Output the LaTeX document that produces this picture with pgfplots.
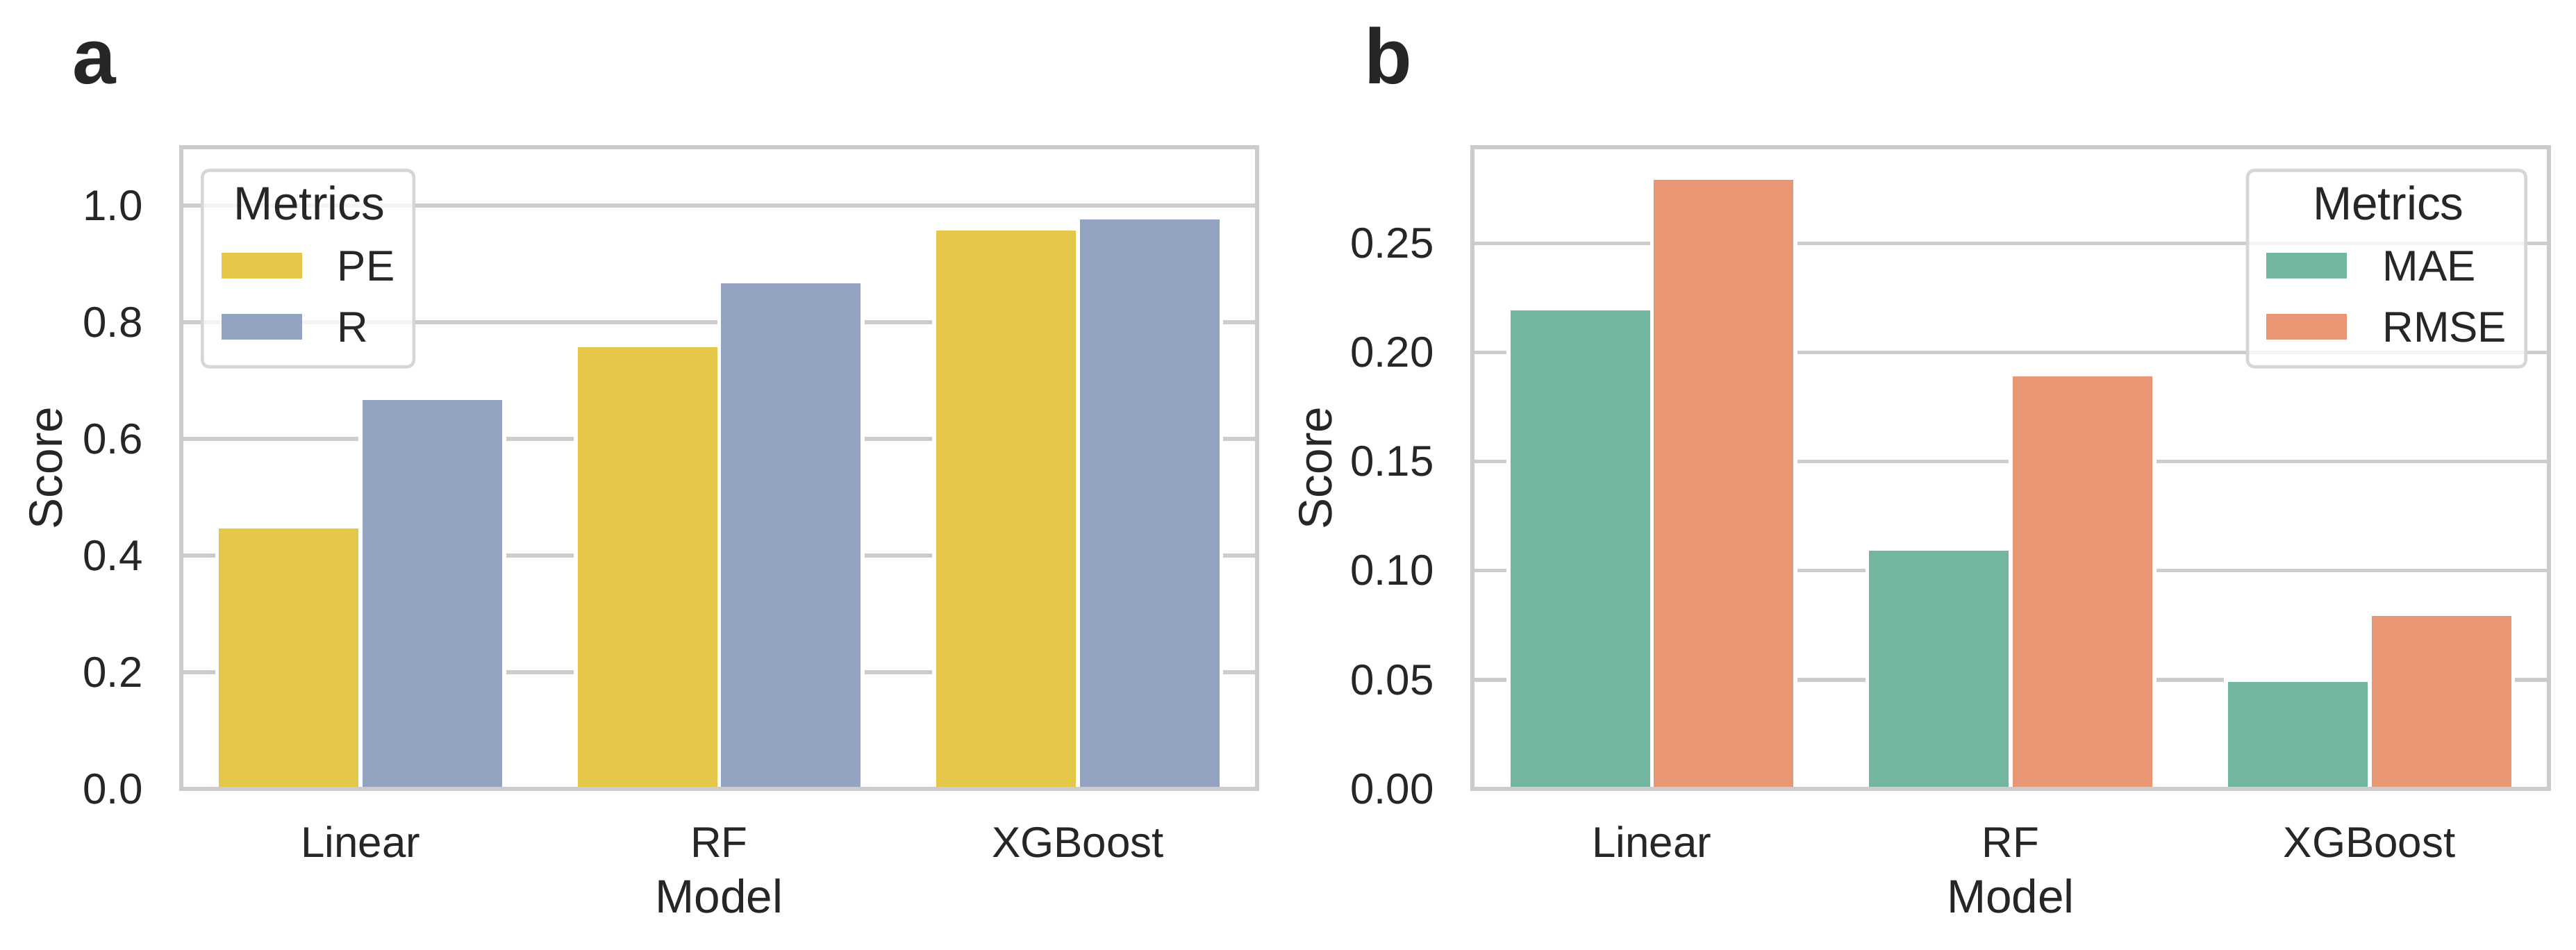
\documentclass[border=0pt]{standalone}
\usepackage{fontspec}
\setmainfont{Liberation Sans}
\usepackage{pgfplots}
\pgfplotsset{compat=1.18}
\definecolor{textc}{HTML}{262626}
\definecolor{gridc}{HTML}{CCCCCC}
\definecolor{legc}{HTML}{D6D6D6}
\definecolor{peC}{HTML}{E5C849}
\definecolor{rC}{HTML}{95A3C3}
\definecolor{maeC}{HTML}{72B6A1}
\definecolor{rmseC}{HTML}{E99675}
\newcommand{\tickfont}{\fontsize{14.85pt}{17pt}\selectfont}
\newcommand{\labfont}{\fontsize{16.2pt}{19pt}\selectfont}
\pgfplotsset{
 /pgfplots/ybar legend/.style={/pgfplots/legend image code/.code={
   \path[draw=none, fill=none] (0pt,-6.36pt) rectangle (40.08pt,6.36pt);
   \fill[##1, draw=none, fill opacity=1, sharp corners] (0pt,-3.48pt) rectangle (27.84pt,5.4pt);}},
 panel/.style={
  scale only axis, anchor=south west, height=221.76pt,
  ybar,
  ymin=0, xmin=-0.5, xmax=2.5, xtick={0,1,2}, xticklabels={Linear,RF,XGBoost},
  clip=false,
  major tick length=0pt, tick style={draw=none},
  ymajorgrids, major grid style={draw=gridc, line width=1.3pt},
  axis line style={draw=gridc, line width=1.65pt},
  tick label style={text=textc, font=\tickfont, inner sep=0pt},
  xticklabel style={anchor=base, yshift=-23.76pt},
  yticklabel style={anchor=east, xshift=-13.1pt},
  label style={text=textc, font=\labfont, inner sep=0pt},
  xlabel style={at={([yshift=-42.96pt]axis description cs:0.5,0)}, anchor=base},
  xlabel={Model}, ylabel={Score},
  legend cell align=left,
  legend style={draw=legc, line width=1.1pt, fill=white, fill opacity=0.8, draw opacity=1, text opacity=1,
    rounded corners=2.4pt, inner xsep=6.6pt, inner ysep=6.48pt, row sep=8.4pt, column sep=0pt,
    font=\tickfont, text=textc,
    nodes={inner sep=0pt, text height=10.56pt, text depth=2.16pt}},
 },
}
\begin{document}
\begin{tikzpicture}
\useasboundingbox (0,0) rectangle (890.16pt,328.32pt);
% Panel a
\begin{axis}[panel, at={(62.64pt,55.68pt)}, width=371.76pt,
  ymax=1.1, ytick={0,0.2,0.4,0.6,0.8,1.0}, yticklabels={0.0,0.2,0.4,0.6,0.8,1.0},
  ylabel style={at={([xshift=-41.04pt]axis description cs:0,0.5)}, anchor=base},
  legend style={at={([xshift=6.72pt,yshift=-7.44pt]axis description cs:0,1)}, anchor=north west}]
\addlegendimage{empty legend}
\addlegendentry{\rlap{\hspace*{-36.24pt}\labfont Metrics}}
\addplot[fill=peC, draw=white, line width=1.37pt, bar width=0.4, bar shift=-0.2]
  coordinates {(0,0.45) (1,0.76) (2,0.96)};
\addlegendentry{PE}
\addplot[fill=rC, draw=white, line width=1.37pt, bar width=0.4, bar shift=0.2]
  coordinates {(0,0.67) (1,0.87) (2,0.98)};
\addlegendentry{R}
\draw[gridc, line width=1.65pt] (rel axis cs:0,0) rectangle (rel axis cs:1,1);
\end{axis}
% Panel b
\begin{axis}[panel, at={(508.8pt,55.68pt)}, width=372pt,
  ymax=0.294, ytick={0,0.05,0.10,0.15,0.20,0.25}, yticklabels={0.00,0.05,0.10,0.15,0.20,0.25},
  ylabel style={at={([xshift=-48.72pt]axis description cs:0,0.5)}, anchor=base},
  legend style={at={([xshift=-7.44pt,yshift=-7.44pt]axis description cs:1,1)}, anchor=north east}]
\addlegendimage{empty legend}
\addlegendentry{\rlap{\hspace*{-24.6pt}\labfont Metrics}}
\addplot[fill=maeC, draw=white, line width=1.37pt, bar width=0.4, bar shift=-0.2]
  coordinates {(0,0.22) (1,0.11) (2,0.05)};
\addlegendentry{MAE}
\addplot[fill=rmseC, draw=white, line width=1.37pt, bar width=0.4, bar shift=0.2]
  coordinates {(0,0.28) (1,0.19) (2,0.08)};
\addlegendentry{RMSE}
\draw[gridc, line width=1.65pt] (rel axis cs:0,0) rectangle (rel axis cs:1,1);
\end{axis}
\node[anchor=base west, inner sep=0pt, text=textc, font=\bfseries\fontsize{27pt}{30pt}\selectfont] at (24.84pt,299.28pt) {a};
\node[anchor=base west, inner sep=0pt, text=textc, font=\bfseries\fontsize{27pt}{30pt}\selectfont] at (471.36pt,299.28pt) {b};
\end{tikzpicture}
\end{document}
